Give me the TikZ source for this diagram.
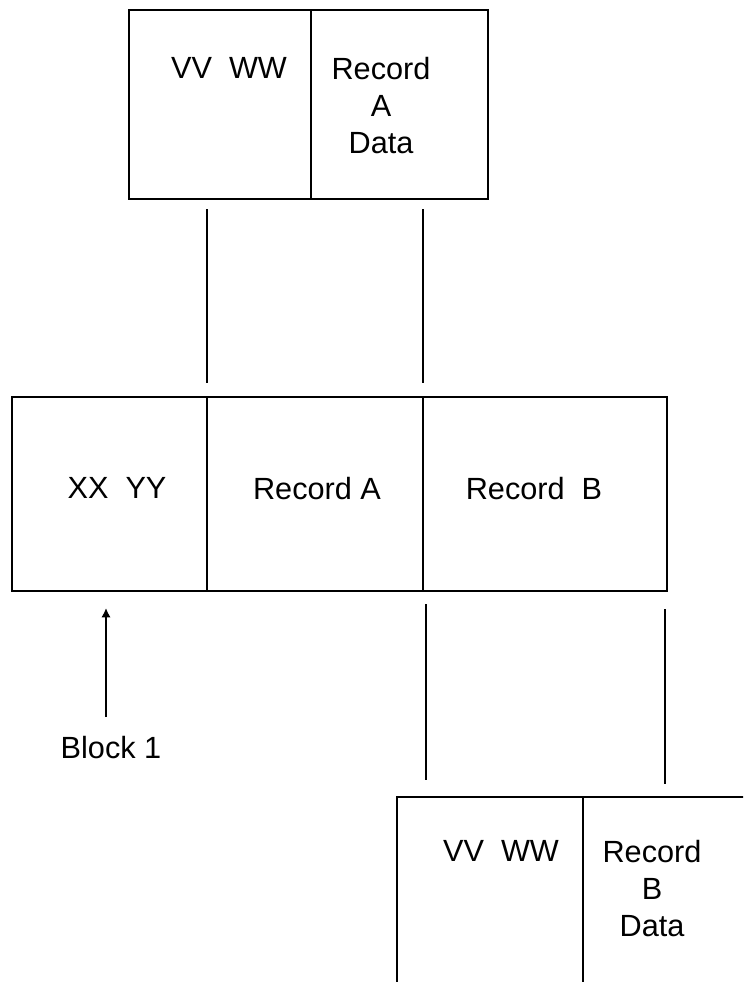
\documentclass[tikz,border=0pt]{standalone}
\usepackage{fontspec}
\setmainfont{Liberation Sans}
\usetikzlibrary{fit,arrows.meta}
\begin{document}
\begin{tikzpicture}[x=0.75pt,y=-0.75pt,
  cell/.style={draw, rectangle, inner sep=0pt, outer sep=0pt, line width=1.3pt},
  lbl/.style={inner sep=0pt, outer sep=0pt, font=\fontsize{23}{27.75}\selectfont, align=center, anchor=north},
  conn/.style={line width=1.3pt},
  every node/.style={text=black}]
\useasboundingbox (0,0) rectangle (743,982);
\clip (0,0) rectangle (743,982);
\fill[white] (0,0) rectangle (743,982);
% top box
\node[cell, fit={(129,10) (311,199)}] (t1) {};
\node[cell, fit={(311,10) (488,199)}] (t2) {};
\node[lbl] (t1t) at (229,57) {VV\ \ WW};
\node[lbl] (t2t) at (381,57) {Record\\A\\Data};
% middle box
\node[cell, fit={(12,397) (207,591)}] (m1) {};
\node[cell, fit={(207,397) (423,591)}] (m2) {};
\node[cell, fit={(423,397) (667,591)}] (m3) {};
\node[lbl] (m1t) at (117,477) {XX\ \ YY};
\node[lbl] (m2t) at (317,477) {Record A};
\node[lbl] (m3t) at (534,477) {Record\ \ B};
% bottom box (clipped at right and bottom)
\node[cell, fit={(397,797) (583,1010)}] (b1) {};
\node[cell, fit={(583,797) (790,1010)}] (b2) {};
\node[lbl] (b1t) at (501,840) {VV\ \ WW};
\node[lbl] (b2t) at (652,840) {Record\\B\\Data};
% label
\node[lbl] (blk) at (111,736) {Block 1};
% connectors
\coordinate (ca1) at (207,209); \coordinate (ca2) at (207,383);
\coordinate (cb1) at (423,209); \coordinate (cb2) at (423,383);
\coordinate (cc1) at (426,604); \coordinate (cc2) at (426,780);
\coordinate (cd1) at (665,609); \coordinate (cd2) at (665,784);
\coordinate (ar1) at (106,717); \coordinate (ar2) at (106,608);
\draw[conn] (ca1) -- (ca2);
\draw[conn] (cb1) -- (cb2);
\draw[conn] (cc1) -- (cc2);
\draw[conn] (cd1) -- (cd2);
\draw[conn, -{Latex[length=7pt,width=7pt]}] (ar1) -- (ar2);
\end{tikzpicture}
\end{document}
